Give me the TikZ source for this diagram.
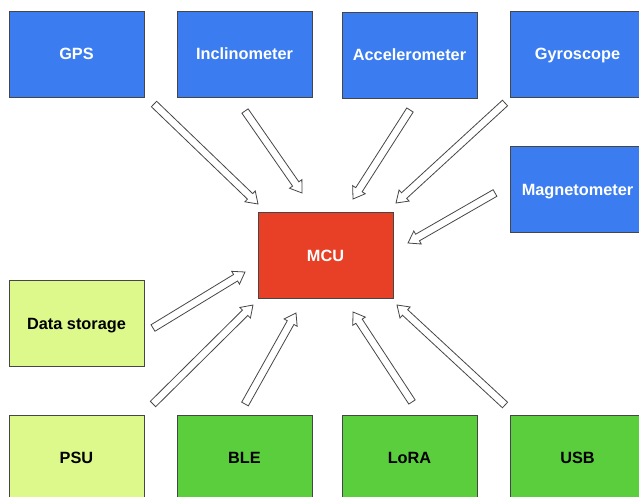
\documentclass[tikz,border=0pt]{standalone}
\usepackage{fontspec}
\setmainfont{Liberation Sans}
\definecolor{sensor}{RGB}{59,125,240}
\definecolor{mcu}{RGB}{232,64,38}
\definecolor{lightg}{RGB}{221,249,140}
\definecolor{darkg}{RGB}{91,206,62}
\definecolor{edge}{RGB}{70,70,70}
\newcommand\hollowarrow[2]{%
  \pgfmathanglebetweenpoints{\pgfpointanchor{#1}{center}}{\pgfpointanchor{#2}{center}}%
  \let\haang\pgfmathresult
  \pgfpointdiff{\pgfpointanchor{#1}{center}}{\pgfpointanchor{#2}{center}}%
  \pgfgetlastxy{\hax}{\hay}%
  \pgfmathsetmacro\halen{veclen(\hax,\hay)}%
  \draw[hollow, shift={(#1)}, rotate=\haang]
    (0,-3.8pt) -- ({\halen pt-11pt},-3.8pt) -- ({\halen pt-11pt},-7.5pt) --
    ({\halen pt},0pt) -- ({\halen pt-11pt},7.5pt) -- ({\halen pt-11pt},3.8pt) --
    (0,3.8pt) -- cycle;
}
\tikzset{
  box/.style={draw=edge, line width=0.8pt, minimum width=135pt, minimum height=86pt,
    inner sep=0pt, text height=11.7pt, text depth=0pt,
    font=\bfseries\fontsize{16.3}{19}\selectfont},
  bluebox/.style={box, fill=sensor, text=white},
  redbox/.style={box, fill=mcu, text=white},
  lgbox/.style={box, fill=lightg, text=black},
  dgbox/.style={box, fill=darkg, text=black},
  hollow/.style={draw=edge, fill=white, line width=0.8pt, line join=miter},
}
\begin{document}
\begin{tikzpicture}[x=1pt, y=-1pt]
\useasboundingbox (0,0) rectangle (639,497);
\clip (0,0) rectangle (639,497);
\fill[white] (0,0) rectangle (639,497);
\node[bluebox] (gps) at (76.5,54) {GPS};
\node[bluebox] (incl) at (244.5,54) {Inclinometer};
\node[bluebox] (acc) at (409.5,55) {Accelerometer};
\node[bluebox] (gyro) at (577.5,54) {Gyroscope};
\node[bluebox] (mag) at (577.5,189.5) {Magnetometer};
\node[redbox] (mcu) at (325.5,255.5) {MCU};
\node[lgbox] (data) at (76.5,323.5) {Data storage};
\node[lgbox] (psu) at (76.5,458) {PSU};
\node[dgbox] (ble) at (244.5,458) {BLE};
\node[dgbox] (lora) at (409.5,458) {LoRA};
\node[dgbox] (usb) at (577.5,458) {USB};
\coordinate (t1) at (154,104); \coordinate (h1) at (258,204);
\coordinate (t2) at (245,111); \coordinate (h2) at (302,193);
\coordinate (t3) at (410,110); \coordinate (h3) at (353,199);
\coordinate (t4) at (505,103); \coordinate (h4) at (396,203);
\coordinate (t5) at (495,193); \coordinate (h5) at (408,243);
\coordinate (t6) at (153,328); \coordinate (h6) at (245,272);
\coordinate (t7) at (153,404); \coordinate (h7) at (253,305);
\coordinate (t8) at (245,404); \coordinate (h8) at (296,313);
\coordinate (t9) at (412,402); \coordinate (h9) at (353,312);
\coordinate (t10) at (505,405); \coordinate (h10) at (397,305);
\hollowarrow{t1}{h1}
\hollowarrow{t2}{h2}
\hollowarrow{t3}{h3}
\hollowarrow{t4}{h4}
\hollowarrow{t5}{h5}
\hollowarrow{t6}{h6}
\hollowarrow{t7}{h7}
\hollowarrow{t8}{h8}
\hollowarrow{t9}{h9}
\hollowarrow{t10}{h10}
\end{tikzpicture}
\end{document}
